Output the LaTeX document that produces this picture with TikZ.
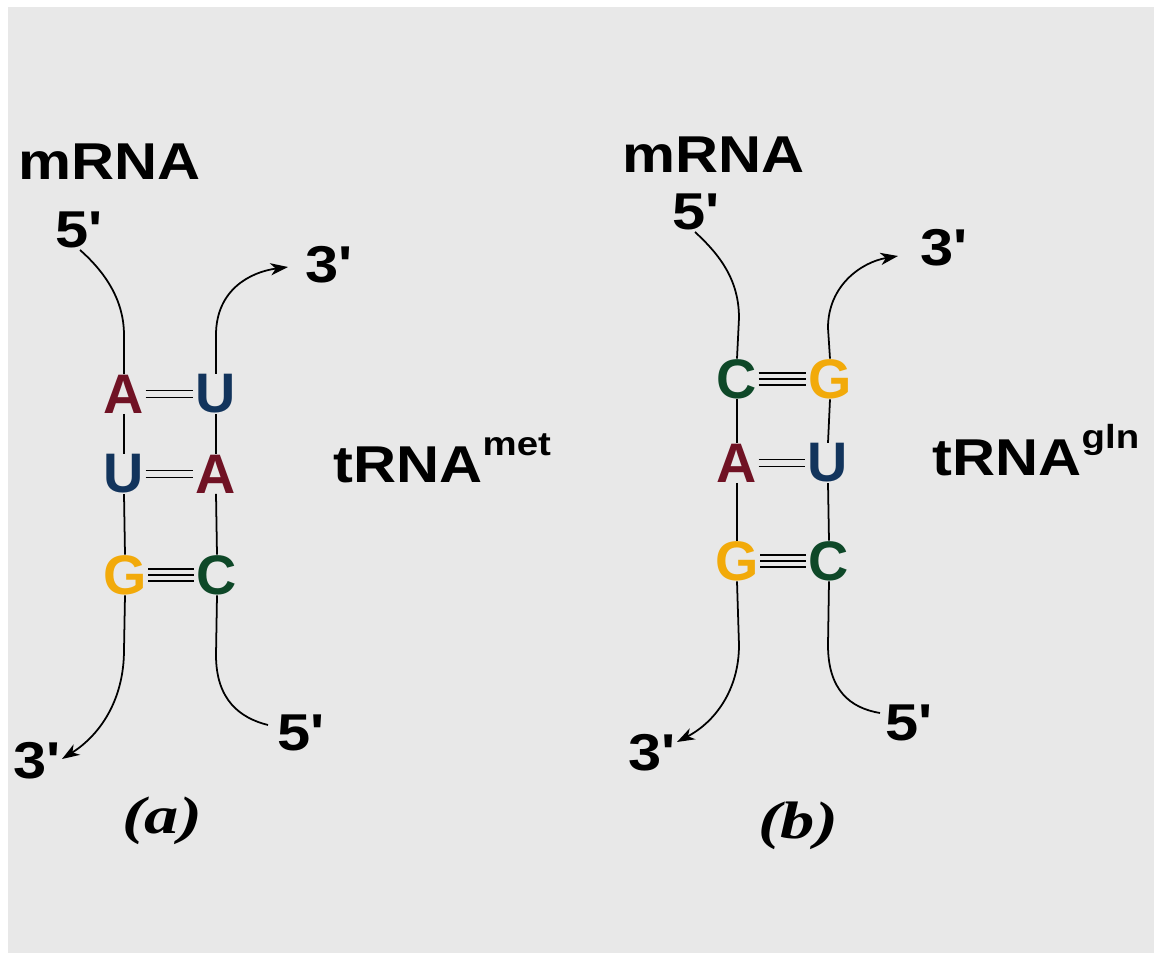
\documentclass[tikz,border=0pt]{standalone}
\usepackage{fontspec}
\usetikzlibrary{arrows.meta,calc}

\newfontfamily\lblfont{Liberation Sans}[FakeStretch=1.15]
\newfontfamily\basefont{Liberation Sans}
\newfontfamily\capfont{Liberation Serif}[FakeStretch=1.3]

% enlaces entre bases (doble y triple)
\newcommand{\dbond}[2]{%
  \draw[bond] ([yshift=2pt]#1.east) -- ([yshift=2pt]#2.west);
  \draw[bond] ([yshift=-2pt]#1.east) -- ([yshift=-2pt]#2.west);}
\newcommand{\tbond}[2]{%
  \draw[bond] ([yshift=3.4pt]#1.east) -- ([yshift=3.4pt]#2.west);
  \draw[bond] (#1.east) -- (#2.west);
  \draw[bond] ([yshift=-3.4pt]#1.east) -- ([yshift=-3.4pt]#2.west);}

\begin{document}
\begin{tikzpicture}[x=0.02cm, y=-0.02cm, thick]
  % Colores
  \definecolor{bggray}{RGB}{232,232,232}
  \definecolor{baseA}{RGB}{112,18,36}
  \definecolor{baseU}{RGB}{18,52,92}
  \definecolor{baseG}{RGB}{242,170,10}
  \definecolor{baseC}{RGB}{14,72,40}

  \tikzset{
    lbl/.style={anchor=base west, inner sep=0pt, font=\lblfont\bfseries\fontsize{29.5}{30}\selectfont},
    nuc/.style={inner sep=0pt, font=\basefont\bfseries\fontsize{31.7}{32}\selectfont},
    caplbl/.style={inner sep=0pt, font=\capfont\bfseries\itshape\fontsize{30}{30}\selectfont},
    strand/.style={line width=1pt},
    bond/.style={line width=1pt, shorten <=0.5pt, shorten >=1pt},
    tip/.style={-{Stealth[length=10pt,width=7pt,inset=3pt]}}
  }

  % Fondo
  \useasboundingbox (0,0) rectangle (1154,953);
  \fill[bggray] (8,7) rectangle (1154,953);

  % --- (a) tRNA met ---
  \node[nuc, text=baseA] (la1) at (124,394) {A};
  \node[nuc, text=baseU] (ra1) at (216,394) {U};
  \node[nuc, text=baseU] (la2) at (124,474) {U};
  \node[nuc, text=baseA] (ra2) at (216,474) {A};
  \node[nuc, text=baseG] (la3) at (125,575) {G};
  \node[nuc, text=baseC] (ra3) at (217,575) {C};

  \dbond{la1}{ra1}
  \dbond{la2}{ra2}
  \tbond{la3}{ra3}

  \node[lbl] (mrnaa) at (18,180) {mRNA};
  \node[lbl] (p5a) at (55,248) {5\textquotesingle};
  \node[lbl] (p3a) at (305,282) {3\textquotesingle};
  \node[lbl] (q3a) at (13,778) {3\textquotesingle};
  \node[lbl] (q5a) at (277,750) {5\textquotesingle};
  \node[lbl] (trnaa) at (333,482) {tRNA\raisebox{15pt}{\fontsize{19}{19}\selectfont met}};
  \node[caplbl] (capa) at (162,821) {(a)};

  \coordinate (sa) at (80,250);
  \coordinate (ta) at (288,267);
  \coordinate (ba) at (62,759);
  \coordinate (ea) at (268,725);

  \draw[strand] (sa) .. controls (105,272) and (124,300) .. (124,335) -- (la1.north);
  \draw[strand] (la1.south) -- (la2.north);
  \draw[strand] (la2.south) -- (la3.north);
  \draw[strand, tip] (la3.south) -- (124,650) .. controls (124,700) and (100,735) .. (ba);
  \draw[strand, tip] (ra1.north) -- (216,335) .. controls (216,290) and (250,272) .. (ta);
  \draw[strand] (ra1.south) -- (ra2.north);
  \draw[strand] (ra2.south) -- (ra3.north);
  \draw[strand] (ra3.south) -- (216,655) .. controls (216,700) and (240,718) .. (ea);

  % --- (b) tRNA gln ---
  \node[nuc, text=baseC] (lb1) at (737,379) {C};
  \node[nuc, text=baseG] (rb1) at (830,379) {G};
  \node[nuc, text=baseA] (lb2) at (737,463) {A};
  \node[nuc, text=baseU] (rb2) at (828,463) {U};
  \node[nuc, text=baseG] (lb3) at (737,561) {G};
  \node[nuc, text=baseC] (rb3) at (829,561) {C};

  \tbond{lb1}{rb1}
  \dbond{lb2}{rb2}
  \tbond{lb3}{rb3}

  \node[lbl] (mrnab) at (622,173) {mRNA};
  \node[lbl] (p5b) at (672,230) {5\textquotesingle};
  \node[lbl] (p3b) at (920,265) {3\textquotesingle};
  \node[lbl] (q3b) at (628,770) {3\textquotesingle};
  \node[lbl] (q5b) at (885,740) {5\textquotesingle};
  \node[lbl] (trnab) at (932,475) {tRNA\raisebox{15pt}{\fontsize{19}{19}\selectfont gln}};
  \node[caplbl] (capb) at (798,826) {(b)};

  \coordinate (sb) at (695,232);
  \coordinate (tb) at (898,256);
  \coordinate (bb) at (677,742);
  \coordinate (eb) at (880,713);

  \draw[strand] (sb) .. controls (720,255) and (739,280) .. (739,318) -- (lb1.north);
  \draw[strand] (lb1.south) -- (lb2.north);
  \draw[strand] (lb2.south) -- (lb3.north);
  \draw[strand, tip] (lb3.south) -- (739,645) .. controls (739,690) and (715,722) .. (bb);
  \draw[strand, tip] (rb1.north) -- (828,328) .. controls (828,285) and (862,262) .. (tb);
  \draw[strand] (rb1.south) -- (rb2.north);
  \draw[strand] (rb2.south) -- (rb3.north);
  \draw[strand] (rb3.south) -- (828,645) .. controls (828,690) and (850,708) .. (eb);

\end{tikzpicture}
\end{document}
